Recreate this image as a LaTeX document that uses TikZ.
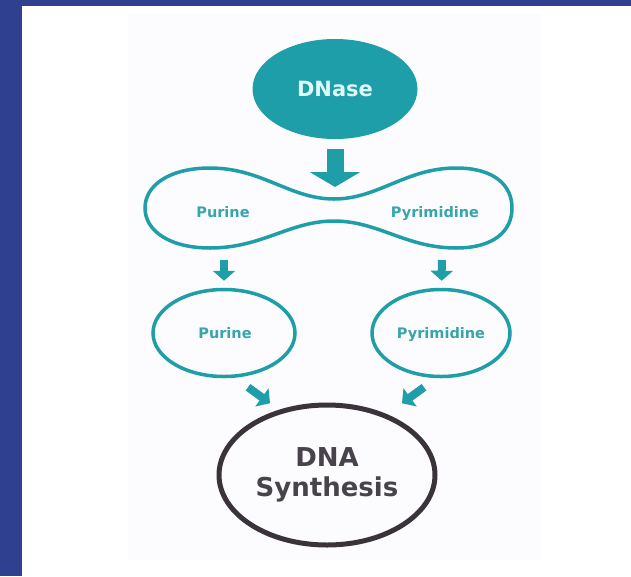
\documentclass[tikz,border=0pt]{standalone}
\usepackage{fontspec}
\setmainfont{DejaVu Sans}
\usetikzlibrary{arrows.meta,shapes.geometric}
\definecolor{frameblue}{RGB}{46,64,143}
\definecolor{teal1}{RGB}{30,158,168}
\definecolor{tealtext}{RGB}{55,165,172}
\definecolor{dnasetext}{RGB}{222,250,250}
\definecolor{dnatext}{RGB}{72,66,74}
\definecolor{dnaline}{RGB}{58,52,58}
\definecolor{panel}{RGB}{252,251,253}
\begin{document}
\begin{tikzpicture}[x=1pt,y=-1pt,
  oval/.style={ellipse, draw=teal1, line width=3.5pt, inner sep=0pt},
  lbl/.style={anchor=base, text=tealtext, inner sep=0pt, font=\bfseries\fontsize{14.5}{16}\selectfont},
  bigarrow/.style={draw=teal1, line width=17pt, -{Triangle[width=50pt,length=15pt]}},
  smallarrow/.style={draw=teal1, line width=8pt, -{Triangle[width=22pt,length=10pt]}}
]
\useasboundingbox (0,0) rectangle (631,576);
\fill[white] (0,0) rectangle (631,576);
\fill[panel] (128,14) rectangle (542,560);
\fill[frameblue] (0,0) rectangle (631,6);
\fill[frameblue] (0,0) rectangle (22,576);

% DNase
\node[ellipse, fill=teal1, minimum width=165pt, minimum height=100pt, inner sep=0pt,
      text=dnasetext, font=\bfseries\fontsize{21}{24}\selectfont] (dnase) at (335,89) {DNase};

% peanut
\draw[teal1, line width=3.5pt]
  (145,208) .. controls (145,185) and (170,168) .. (210,168)
  .. controls (262,168) and (290,199) .. (334,199)
  .. controls (378,199) and (406,168) .. (456,168)
  .. controls (494,168) and (512,185) .. (512,208)
  .. controls (512,231) and (494,248) .. (456,248)
  .. controls (406,248) and (378,221) .. (334,221)
  .. controls (290,221) and (262,248) .. (210,248)
  .. controls (170,248) and (145,231) .. (145,208) -- cycle;
\coordinate (waist) at (335,199);
\coordinate (lbot) at (224,248);
\coordinate (rbot) at (442,248);
\node[lbl] (pl) at (223,217) {Purine};
\node[lbl] (pr) at (435,217) {Pyrimidine};

\draw[bigarrow, shorten <=10pt, shorten >=12pt] (dnase) -- (waist);

% lower ovals
\node[oval, minimum width=142pt, minimum height=87pt] (purine) at (224,333) {};
\node[oval, minimum width=138pt, minimum height=87pt] (pyrim) at (441,333) {};
\node[lbl] (plt) at (225,338) {Purine};
\node[lbl] (prt) at (441,338) {Pyrimidine};

\draw[smallarrow, shorten <=12pt, shorten >=7pt] (lbot) -- (purine);
\draw[smallarrow, shorten <=12pt, shorten >=7pt] (rbot) -- (pyrim);

% DNA synthesis
\node[ellipse, draw=dnaline, line width=5pt, minimum width=216pt, minimum height=140pt,
      inner sep=0pt, align=center, text=dnatext,
      font=\bfseries\fontsize{26}{30}\selectfont] (dna) at (327,475) {DNA\\Synthesis};

\draw[smallarrow] ([shift={(24,9)}]purine.south) -- ++(22,16);
\draw[smallarrow] ([shift={(-17,9)}]pyrim.south) -- ++(-22,16);
\end{tikzpicture}
\end{document}
